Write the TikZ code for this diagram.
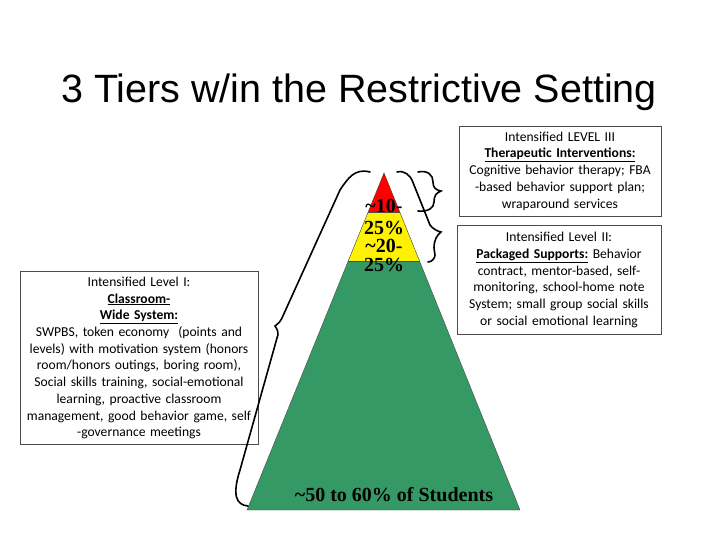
\documentclass[tikz,border=0pt]{standalone}
\usepackage{fontspec}
\setmainfont{Carlito}
\newfontfamily\titlefont{Liberation Sans}
\newfontfamily\pyrfont{Liberation Serif}
\begin{document}
\begin{tikzpicture}[x=1pt,y=-1pt,
  txtbox/.style={draw=black!70,fill=white,align=center,font=\fontsize{13.6}{16.7}\selectfont,inner sep=2pt},
  brace/.style={draw=black,line width=1.6pt,line cap=round},
  pyr/.style={font=\pyrfont\bfseries\fontsize{20}{20}\selectfont,inner sep=0pt}]
\useasboundingbox (0,0) rectangle (720,540);
\node[font=\titlefont\fontsize{39.5}{40}\selectfont] (title) at (359,92) {3 Tiers w/in the Restrictive Setting};
% pyramid
\fill[fill={rgb,255:red,52;green,153;blue,101}] (247,510) -- (384,173) -- (520,510) -- cycle;
\fill[yellow] (348.4,261) -- (384,173) -- (419.6,261) -- cycle;
\fill[red] (368.2,212) -- (384,173) -- (399.8,212) -- cycle;
\draw[black!70] (247,510) -- (384,173) -- (520,510) -- cycle;
\draw[black!70] (368.2,212) -- (399.8,212) (348.4,261) -- (419.6,261);
\node[pyr] (p1a) at (384,206) {\textasciitilde10-};
\node[pyr] (p1b) at (384,228) {25\%};
\node[pyr] (p2a) at (384,246) {\textasciitilde20-};
\node[pyr] (p2b) at (384,265) {25\%};
\node[pyr] (p3) at (394,495) {\textasciitilde50 to 60\% of Students};
% boxes
\node[txtbox,text width=198pt,minimum height=90pt] (b3) at (560,171) {Intensified LEVEL III\\\underline{\textbf{Therapeutic Interventions:}}\\Cognitive behavior therapy; FBA\\-based behavior support plan;\\wraparound services};
\node[txtbox,text width=200pt,minimum height=109pt] (b2) at (559,280) {Intensified Level II:\\\underline{\textbf{Packaged Supports:}} Behavior\\contract, mentor-based, self-\\monitoring, school-home note\\System; small group social skills\\or social emotional learning};
\node[txtbox,text width=234pt,minimum height=173pt] (b1) at (139,358) {Intensified Level I:\\\underline{\textbf{Classroom-}}\\\underline{\textbf{Wide System:}}\\SWPBS, token economy~ (points and\\levels) with motivation system (honors\\room/honors outings, boring room),\\Social skills training, social-emotional\\learning, proactive classroom\\management, good behavior game, self\\-governance meetings};
% braces
\draw[brace] (370,172) .. controls (355,168) and (348,178) .. (340,190) -- (282,318) .. controls (280,322) and (278,324) .. (275,326) .. controls (278,330) and (279,334) .. (277,338) -- (240,470) .. controls (232,495) and (236,505) .. (248,506);
\draw[brace] (397,172) .. controls (405,170) and (410,176) .. (412,180) -- (430,225) .. controls (433,229) and (437,231) .. (441,232) .. controls (437,235) and (434,240) .. (434,248) -- (435,255) .. controls (435,258) and (432,262) .. (428,262);
\draw[brace] (418,172) .. controls (428,170) and (433,175) .. (433,182) .. controls (433,188) and (436,190) .. (441,191) .. controls (436,193) and (434,196) .. (434,202) .. controls (434,208) and (428,212) .. (418,211);
\end{tikzpicture}
\end{document}
